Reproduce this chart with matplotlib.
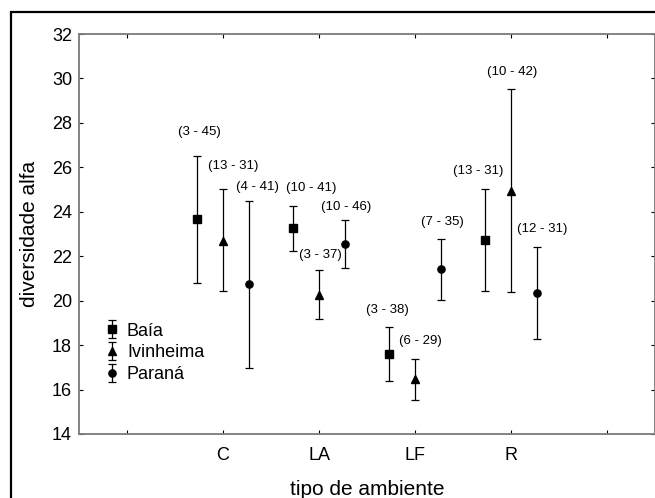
import matplotlib
matplotlib.use("Agg")
import matplotlib.pyplot as plt
import numpy as np
from matplotlib.patches import Rectangle

plt.rcParams["font.family"] = ["Liberation Sans", "DejaVu Sans"]

# data
ambientes = ["C", "LA", "LF", "R"]
series = ["Baía", "Ivinheima", "Paraná"]
markers = ["s", "^", "o"]

media = {
    "Baía": [23.67, 23.26, 17.61, 22.73],
    "Ivinheima": [22.70, 20.25, 16.46, 24.95],
    "Paraná": [20.73, 22.56, 21.43, 20.36],
}
superior = {
    "Baía": [26.53, 24.27, 18.83, 25.01],
    "Ivinheima": [25.02, 21.37, 17.37, 29.54],
    "Paraná": [24.47, 23.64, 22.79, 22.40],
}
inferior = {
    "Baía": [20.80, 22.25, 16.38, 20.42],
    "Ivinheima": [20.42, 19.17, 15.54, 20.39],
    "Paraná": [16.98, 21.49, 20.03, 18.27],
}
amplitude = {
    "Baía": ["(3 - 45)", "(10 - 41)", "(3 - 38)", "(13 - 31)"],
    "Ivinheima": ["(13 - 31)", "(3 - 37)", "(6 - 29)", "(10 - 42)"],
    "Paraná": ["(4 - 41)", "(10 - 46)", "(7 - 35)", "(12 - 31)"],
}

# label offsets from the top cap, in points (dx, dy)
label_offsets = {
    "Baía": [(2, 17), (13, 13), (-1, 12), (-5, 13)],
    "Ivinheima": [(7, 17), (1, 11), (4, 13), (1, 12)],
    "Paraná": [(6, 10), (1, 9), (1, 12), (4, 13)],
}

shift = [-0.27, 0.0, 0.27]

fig = plt.figure(figsize=(6.55, 4.98), dpi=100)
ax = fig.add_axes([79 / 655, 1 - 434 / 498, 576 / 655, 400 / 498])

x = np.arange(1, len(ambientes) + 1)
handles = []
for s, name in enumerate(series):
    xs = x + shift[s]
    m = np.array(media[name])
    lo = m - np.array(inferior[name])
    hi = np.array(superior[name]) - m
    h = ax.errorbar(xs, m, yerr=[lo, hi], fmt=markers[s], color="black",
                    ecolor="black", elinewidth=0.9, capsize=2.6, capthick=0.9,
                    markersize=5.2, label=name)
    handles.append(h)
    for i in range(len(ambientes)):
        dx, dy = label_offsets[name][i]
        ax.annotate(amplitude[name][i], (xs[i], superior[name][i]),
                    xytext=(dx, dy), textcoords="offset points",
                    ha="center", va="center", fontsize=9.5)

ax.set_xlim(-0.5, 5.5)
ax.set_ylim(14, 32)
ax.set_xticks(range(0, 6))
ax.set_xticklabels([""] + ambientes + [""])
ax.set_yticks(range(14, 33, 2))
ax.tick_params(direction="in", length=3, width=0.8, top=True, right=True,
               labelsize=13)
ax.tick_params(axis="x", pad=9)
ax.tick_params(axis="y", pad=5)
for sp in ax.spines.values():
    sp.set_color("#7a7a7a")
    sp.set_linewidth(1.3)

ax.set_xlabel("tipo de ambiente", fontsize=15, labelpad=12)
ax.set_ylabel("diversidade alfa", fontsize=15, labelpad=9)

ax.legend(handles=handles, labels=series, loc="upper left",
          bbox_to_anchor=(0.022, 0.31), frameon=False, fontsize=13,
          handlelength=0.8, handletextpad=0.45, labelspacing=0.26,
          borderpad=0.2)

# outer frame (cropped on the right and bottom)
fig.add_artist(Rectangle((11 / 655, -0.1), 1.2, 1.1 - 12 / 498,
                         transform=fig.transFigure, fill=False,
                         edgecolor="black", linewidth=1.6))

fig.savefig("out.png", dpi=100)
